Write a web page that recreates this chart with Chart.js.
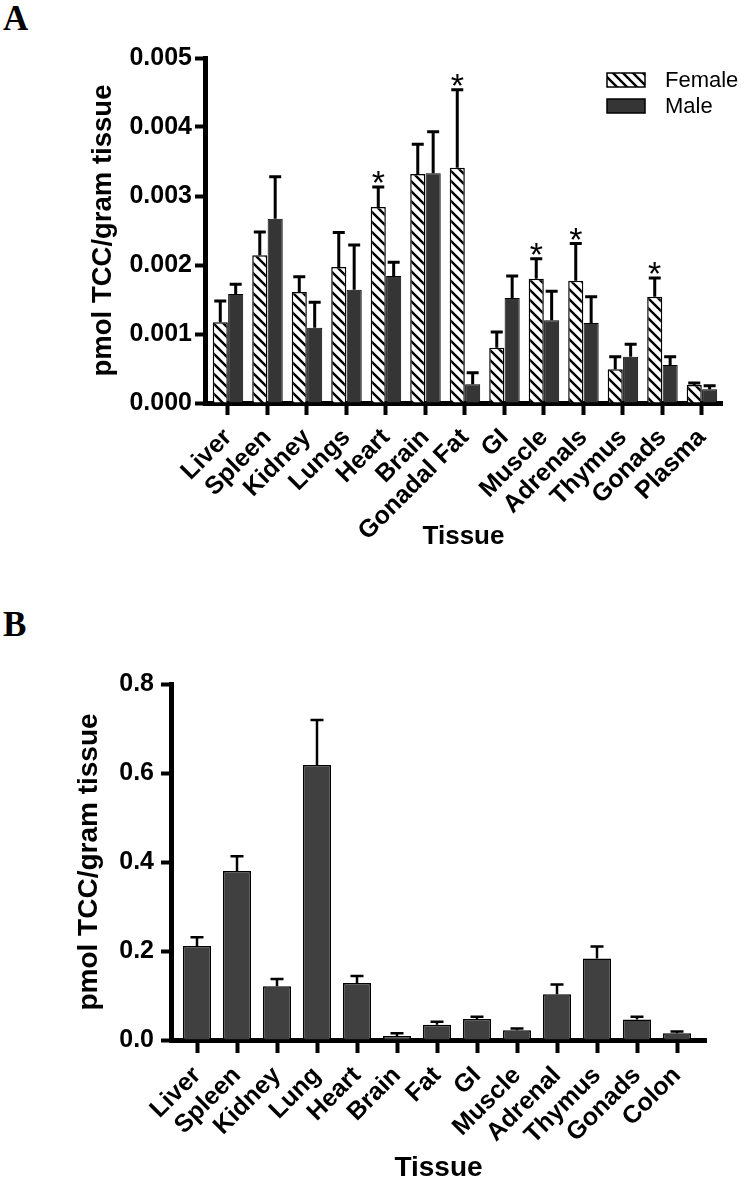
<!DOCTYPE html>
<html><head><meta charset="utf-8">
<script src="https://cdn.jsdelivr.net/npm/chart.js@4.4.1/dist/chart.umd.min.js"></script>
<style>
html,body{margin:0;padding:0;background:#fff;}
body{width:749px;height:1188px;position:relative;overflow:hidden;}
.lbl{position:absolute;font-family:'Liberation Serif','Times New Roman',serif;font-weight:bold;font-size:35px;line-height:35px;color:#000;}
canvas{position:absolute;left:0;}
</style></head><body>
<div class="lbl" style="left:3px;top:1px">A</div>
<div class="lbl" style="left:3px;top:607px">B</div>
<canvas id="cA" width="749" height="560" style="top:0"></canvas>
<canvas id="cB" width="749" height="618" style="top:570px"></canvas>
<script>
// ---- Panel A data ----
const tissuesA = ['Liver','Spleen','Kidney','Lungs','Heart','Brain','Gonadal Fat','GI','Muscle','Adrenals','Thymus','Gonads','Plasma'];
const femaleMeanA = [0.00117,0.00214,0.00161,0.00197,0.00284,0.00332,0.00341,0.00080,0.00180,0.00177,0.00049,0.00154,0.00026];
const femaleSemA  = [0.00031,0.00034,0.00022,0.00050,0.00029,0.00043,0.00113,0.00023,0.00029,0.00054,0.00018,0.00027,0.00003];
const maleMeanA   = [0.00158,0.00267,0.00109,0.00164,0.00184,0.00333,0.00027,0.00152,0.00120,0.00116,0.00067,0.00055,0.00020];
const maleSemA    = [0.00014,0.00061,0.00037,0.00065,0.00020,0.00060,0.00017,0.00032,0.00042,0.00038,0.00018,0.00012,0.00005];
const femaleSigA  = [false,false,false,false,true,false,true,false,true,true,false,true,false];
const yTicksA = [0,0.001,0.002,0.003,0.004,0.005];

// ---- Panel B data ----
const tissuesB = ['Liver','Spleen','Kidney','Lung','Heart','Brain','Fat','GI','Muscle','Adrenal','Thymus','Gonads','Colon'];
const meanB = [0.211,0.380,0.121,0.618,0.128,0.009,0.034,0.047,0.022,0.103,0.183,0.046,0.015];
const semB  = [0.020,0.033,0.016,0.101,0.016,0.006,0.007,0.005,0.004,0.022,0.027,0.006,0.004];
const yTicksB = [0,0.2,0.4,0.6,0.8];

const FONT = "'Liberation Sans', Arial, Helvetica, sans-serif";
Chart.defaults.color = '#000';

function makeHatch(ctx){
  const c = document.createElement('canvas'); c.width = 10; c.height = 10;
  const g = c.getContext('2d');
  g.fillStyle = '#fff'; g.fillRect(0,0,10,10);
  g.strokeStyle = '#000'; g.lineWidth = 2.4;
  g.beginPath();
  g.moveTo(-2,-2); g.lineTo(12,12);
  g.moveTo(-2,8); g.lineTo(2,12);
  g.moveTo(8,-2); g.lineTo(12,2);
  g.stroke();
  return ctx.createPattern(c,'repeat');
}

const errorBarPlugin = {
  id: 'errorBars',
  afterDatasetsDraw(chart, args, opts) {
    const ctx = chart.ctx, y = chart.scales.y;
    chart.data.datasets.forEach((ds, di) => {
      if (!ds.errors) return;
      const meta = chart.getDatasetMeta(di);
      meta.data.forEach((bar, i) => {
        const top = y.getPixelForValue(ds.data[i] + ds.errors[i]);
        const half = opts.cap / 2;
        ctx.save();
        ctx.strokeStyle = '#000'; ctx.lineWidth = opts.width; ctx.lineCap = 'butt';
        ctx.beginPath();
        ctx.moveTo(bar.x, bar.y); ctx.lineTo(bar.x, top - opts.width/2);
        ctx.moveTo(bar.x - half, top); ctx.lineTo(bar.x + half, top);
        ctx.stroke();
        if (ds.sig && ds.sig[i]) {
          ctx.fillStyle = '#000';
          ctx.font = "34px " + FONT;
          ctx.textAlign = 'center'; ctx.textBaseline = 'alphabetic';
          ctx.fillText('*', bar.x, top - 13 + 20);
        }
        ctx.restore();
      });
    });
  }
};

const legendPlugin = {
  id: 'boxLegend',
  afterDraw(chart, args, opts) {
    if (!opts || !opts.show) return;
    const ctx = chart.ctx;
    ctx.save();
    chart.data.datasets.forEach((ds, i) => {
      const yy = 73 + i * 26;
      ctx.fillStyle = ds.backgroundColor;
      ctx.fillRect(607, yy, 38, 14);
      ctx.strokeStyle = '#000'; ctx.lineWidth = 1.5;
      ctx.strokeRect(607, yy, 38, 14);
      ctx.fillStyle = '#000';
      ctx.font = "22px " + FONT;
      ctx.textAlign = 'left'; ctx.textBaseline = 'middle';
      ctx.fillText(ds.label, 665, yy + 8);
    });
    ctx.restore();
  }
};

// ---- Chart A ----
const ctxA = document.getElementById('cA').getContext('2d');
const hatchA = makeHatch(ctxA);
new Chart(ctxA, {
  type: 'bar',
  data: {
    labels: tissuesA,
    datasets: [
      {label:'Female', data:femaleMeanA, errors:femaleSemA, sig:femaleSigA, backgroundColor:hatchA,
       borderColor:'#000', borderWidth:1.5, categoryPercentage:0.78, barPercentage:0.98},
      {label:'Male', data:maleMeanA, errors:maleSemA, backgroundColor:'#353535',
       borderColor:'#000', borderWidth:1, categoryPercentage:0.78, barPercentage:0.98}
    ]
  },
  options: {
    responsive:false, animation:false, devicePixelRatio:1,
    layout:{padding:{top:58, right:27, bottom:7, left:0}},
    plugins:{legend:{display:false}, tooltip:{enabled:false}, errorBars:{width:3, cap:12}, boxLegend:{show:true}},
    scales:{
      x:{
        type:'category', offset:true,
        afterBuildTicks(s){ s._startValue = -0.582; s._valueRange = 13.09; },
        afterFit(s){ s.height = 150; },
        grid:{display:true, drawOnChartArea:false, offset:false, tickLength:12, tickWidth:4, tickColor:'#000'},
        border:{display:true, width:5, color:'#000'},
        ticks:{autoSkip:false, maxRotation:45, minRotation:45, padding:8, color:'#000',
               font:{family:FONT, size:25, weight:'bold'}},
        title:{display:true, text:'Tissue', color:'#000', font:{family:FONT, size:26, weight:'bold'}, padding:{top:0, bottom:1}}
      },
      y:{
        min:0, max:0.005,
        afterBuildTicks(s){ s.ticks = yTicksA.map(v => ({value:v})); },
        afterFit(s){ s.width = 205; },
        grid:{display:true, drawOnChartArea:false, tickLength:10, tickWidth:4, tickColor:'#000'},
        border:{display:true, width:5, color:'#000'},
        ticks:{padding:3, color:'#000', callback:v => Number(v).toFixed(3), font:{family:FONT, size:25, weight:'bold'}},
        title:{display:true, text:'pmol TCC/gram tissue', color:'#000', font:{family:FONT, size:27.5, weight:'bold'}, padding:{top:87, bottom:0}}
      }
    }
  },
  plugins:[errorBarPlugin, legendPlugin]
});

// ---- Chart B ----
const ctxB = document.getElementById('cB').getContext('2d');
new Chart(ctxB, {
  type: 'bar',
  data: {
    labels: tissuesB,
    datasets: [
      {label:'TCC', data:meanB, errors:semB, backgroundColor:'#404040',
       borderColor:'#000', borderWidth:1.5, categoryPercentage:0.7, barPercentage:1.0}
    ]
  },
  options: {
    responsive:false, animation:false, devicePixelRatio:1,
    layout:{padding:{top:114, right:43, bottom:2, left:0}},
    plugins:{legend:{display:false}, tooltip:{enabled:false}, errorBars:{width:2.5, cap:13}, boxLegend:{show:false}},
    scales:{
      x:{
        type:'category', offset:true,
        afterBuildTicks(s){ s._startValue = -0.65; s._valueRange = 13.375; },
        afterFit(s){ s.height = 146; },
        grid:{display:true, drawOnChartArea:false, offset:false, tickLength:13, tickWidth:4, tickColor:'#000'},
        border:{display:true, width:5, color:'#000'},
        ticks:{autoSkip:false, maxRotation:45, minRotation:45, padding:8, color:'#000',
               font:{family:FONT, size:25, weight:'bold'}},
        title:{display:true, text:'Tissue', color:'#000', font:{family:FONT, size:28, weight:'bold'}, padding:{top:0, bottom:1}}
      },
      y:{
        min:0, max:0.8,
        afterBuildTicks(s){ s.ticks = yTicksB.map(v => ({value:v})); },
        afterFit(s){ s.width = 171; },
        grid:{display:true, drawOnChartArea:false, tickLength:10, tickWidth:4, tickColor:'#000'},
        border:{display:true, width:5, color:'#000'},
        ticks:{padding:7, color:'#000', callback:v => Number(v).toFixed(1), font:{family:FONT, size:25, weight:'bold'}},
        title:{display:true, text:'pmol TCC/gram tissue', color:'#000', font:{family:FONT, size:28, weight:'bold'}, padding:{top:72, bottom:0}}
      }
    }
  },
  plugins:[errorBarPlugin, legendPlugin]
});
</script>
</body></html>
